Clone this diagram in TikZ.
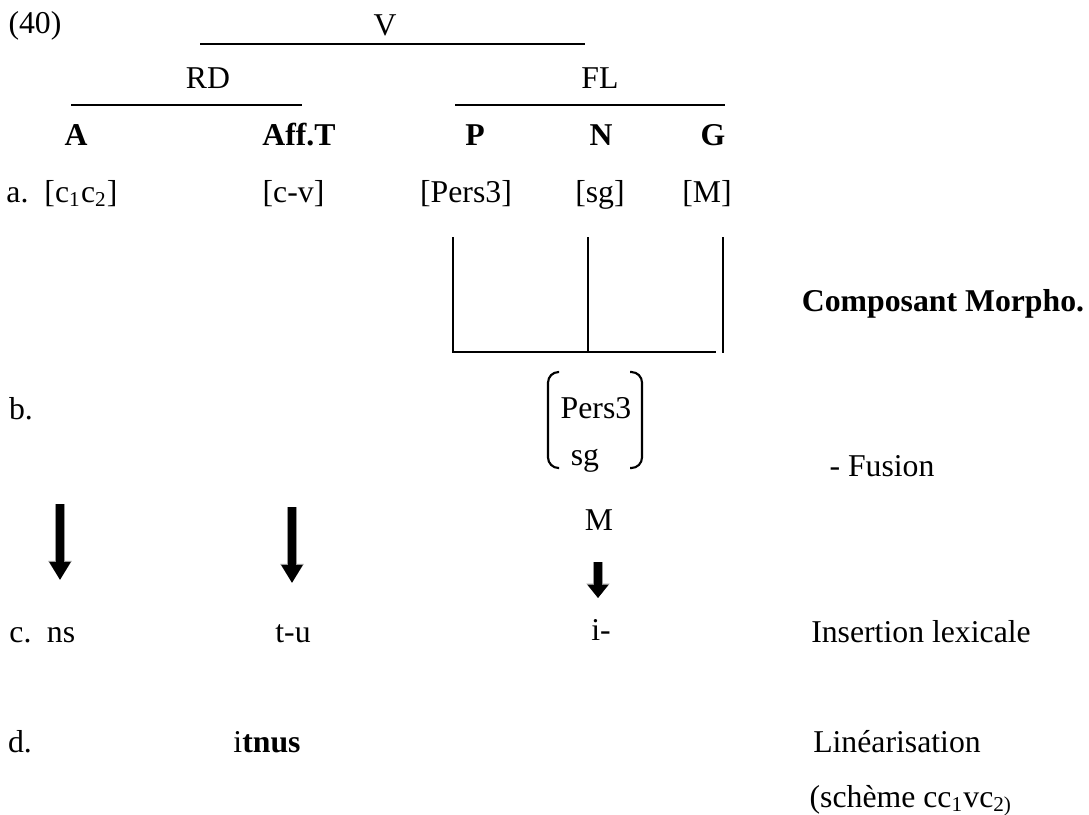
\documentclass[tikz,border=0pt]{standalone}
\usepackage{fontspec}
\setmainfont{Liberation Serif}
\usepackage{tikz}
\usetikzlibrary{arrows.meta,positioning}
\definecolor{ink}{HTML}{000000}
\definecolor{halo}{HTML}{9A9A9A}
\tikzset{
  lbl/.style={anchor=base,inner sep=0pt,font=\fontsize{12}{14}\selectfont,text=ink},
  bflbl/.style={lbl,font=\fontsize{12}{14}\selectfont\bfseries},
  treebar/.style={draw=ink,line width=0.75pt},
  gridbar/.style={draw=ink,line width=0.8pt},
  paren/.style={draw=ink,line width=0.8pt,rounded corners=4pt},
  bigarr/.style={draw=ink,line width=3pt,-{Triangle[length=6.8pt,width=7.6pt]},
                 preaction={draw=halo,line width=3.6pt,-{Triangle[length=7.2pt,width=8.4pt]}}},
  smallarr/.style={draw=ink,line width=3pt,-{Triangle[length=5pt,width=7.6pt]},
                   preaction={draw=halo,line width=3.6pt,-{Triangle[length=5.4pt,width=8.4pt]}}}
}
\begin{document}
\begin{tikzpicture}[x=0.378pt,y=-0.378pt]
    \path[use as bounding box] (0,0) rectangle (1089,814);
    % tree
    \node[lbl] (num) at (35,33) {(40)};
    \node[lbl] (v) at (385,35) {V};
    \draw[treebar] (200,44) -- (585,44);
    \node[lbl] (rd) at (208,88) {RD};
    \node[lbl] (fl) at (600,88) {FL};
    \draw[treebar] (71,105) -- (302,105);
    \draw[treebar] (455,105) -- (725,105);
    \node[bflbl] (a) at (76,145) {A};
    \node[bflbl] (afft) at (299,145) {Aff.T};
    \node[bflbl] (p) at (475,145) {P};
    \node[bflbl] (n) at (601,145) {N};
    \node[bflbl] (g) at (713,145) {G};
    % a.
    \node[lbl] (rowa) at (17.5,202) {a.};
    \node[lbl] (root) at (81,202) {[c\textsubscript{1}c\textsubscript{2}]};
    \node[lbl] (cv) at (293.5,202) {[c-v]};
    \node[lbl] (pers) at (466,202) {[Pers3]};
    \node[lbl] (sg) at (600,202) {[sg]};
    \node[lbl] (masc) at (707,202) {[M]};
    % fusion lines
    \draw[gridbar] (453,237) -- (453,352) -- (716,352);
    \draw[gridbar] (588,237) -- (588,352);
    \draw[gridbar] (723,237) -- (723,353);
    \node[bflbl] (morpho) at (943,311) {Composant Morpho.};
    % b.
    \node[lbl] (rowb) at (21,419) {b.};
    \draw[paren] (559,372) -- (548,372) -- (548,468) -- (559,468);
    \draw[paren] (630,372) -- (642,372) -- (642,468) -- (630,468);
    \node[lbl] (fpers) at (596,418) {Pers3};
    \node[lbl] (fsg) at (585,465) {sg};
    \node[lbl] (fusion) at (882,476) {- Fusion};
    \node[lbl] (fm) at (599,530) {M};
    % arrows
    \coordinate (a1s) at (60,504);  \coordinate (a1e) at (60,580);
    \coordinate (a2s) at (292,507); \coordinate (a2e) at (292,583);
    \coordinate (a3s) at (598,562); \coordinate (a3e) at (598,598);
    \draw[bigarr] (a1s) -- (a1e);
    \draw[bigarr] (a2s) -- (a2e);
    \draw[smallarr] (a3s) -- (a3e);
    % c.
    \node[lbl] (rowc) at (20.5,642) {c.};
    \node[lbl] (ns) at (61,642) {ns};
    \node[lbl] (tu) at (293,642) {t-u};
    \node[lbl] (iprf) at (601,640) {i-};
    \node[lbl] (insert) at (921,642) {Insertion lexicale};
    % d.
    \node[lbl] (rowd) at (20,752) {d.};
    \node[lbl] (form) at (267,752) {i\textbf{tnus}};
    \node[lbl] (linear) at (897,752) {Linéarisation};
    \node[lbl] (scheme) at (911,807) {(schème cc\textsubscript{1}vc\textsubscript{2)}};
  \end{tikzpicture}
\end{document}
